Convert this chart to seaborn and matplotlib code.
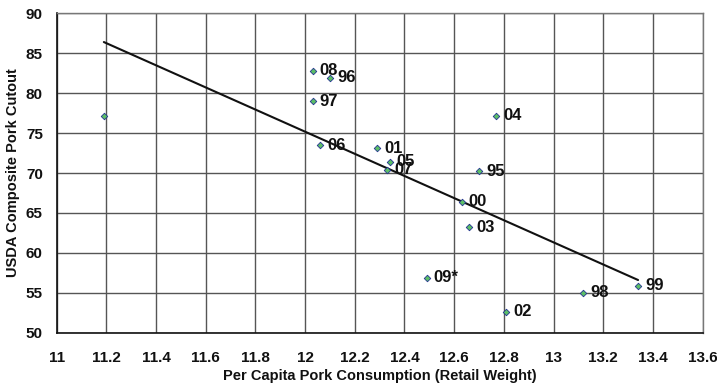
import matplotlib
matplotlib.use("Agg")
import matplotlib.pyplot as plt
import seaborn as sns
import numpy as np
import pandas as pd

# Data
labels = ["", "08", "96", "97", "06", "01", "05", "07", "00", "03", "95", "04", "09*", "02", "98", "99"]
consumption = [11.19, 12.03, 12.10, 12.03, 12.06, 12.29, 12.34, 12.33, 12.63, 12.66, 12.70, 12.77, 12.49, 12.81, 13.12, 13.34]
cutout = [77.1, 82.8, 81.9, 79.0, 73.5, 73.1, 71.4, 70.4, 66.4, 63.2, 70.2, 77.2, 56.9, 52.6, 55.0, 55.9]
trend_x = [11.19, 13.34]
trend_y = [86.4, 56.6]

x_ticks = [11, 11.2, 11.4, 11.6, 11.8, 12, 12.2, 12.4, 12.6, 12.8, 13, 13.2, 13.4, 13.6]
x_ticklabels = ["11", "11.2", "11.4", "11.6", "11.8", "12", "12.2", "12.4", "12.6", "12.8", "13", "13.2", "13.4", "13.6"]
y_ticks = [50, 55, 60, 65, 70, 75, 80, 85, 90]

df = pd.DataFrame({"x": consumption, "y": cutout, "label": labels})

sns.set_theme(style="white")
plt.rcParams['font.family'] = ['Liberation Sans', 'DejaVu Sans']

fig = plt.figure(figsize=(7.17, 3.87), dpi=100)
ax = fig.add_axes([0.079, 0.1403, 0.901, 0.8253])

sns.lineplot(x=trend_x, y=trend_y, ax=ax, color="#111111", linewidth=1.5, zorder=3)
sns.scatterplot(data=df, x="x", y="y", ax=ax, marker="D", s=11, color="#5cbf66",
                edgecolor="#22338f", linewidth=0.6, zorder=4)

for xv, yv, lab in zip(consumption, cutout, labels):
    if lab:
        ax.annotate(lab, (xv, yv), xytext=(5, 0), textcoords="offset points",
                    ha="left", va="center", fontsize=12, fontweight="bold",
                    color="#111111", zorder=5)

ax.set_xlim(11, 13.6)
ax.set_ylim(50, 90)
ax.set_xticks(x_ticks)
ax.set_xticklabels(x_ticklabels)
ax.set_yticks(y_ticks)
ax.grid(True, color="#555555", linewidth=1.0)
ax.set_axisbelow(True)
for side in ["top", "right"]:
    ax.spines[side].set_color("#777777")
    ax.spines[side].set_linewidth(1.0)
for side in ["left", "bottom"]:
    ax.spines[side].set_color("#111111")
    ax.spines[side].set_linewidth(1.2)
ax.tick_params(axis="both", direction="out", length=5, width=1, color="#111111",
               labelsize=11, labelcolor="#111111")
ax.tick_params(axis="x", pad=8)
ax.tick_params(axis="y", pad=5)
for t in ax.get_xticklabels() + ax.get_yticklabels():
    t.set_fontweight("bold")
ax.set_xlabel("Per Capita Pork Consumption (Retail Weight)", fontsize=10.5, fontweight="bold",
              color="#111111", labelpad=3)
ax.set_ylabel("USDA Composite Pork Cutout", fontsize=10.5, fontweight="bold",
              color="#111111", labelpad=4)

fig.savefig("out.png", dpi=100)
